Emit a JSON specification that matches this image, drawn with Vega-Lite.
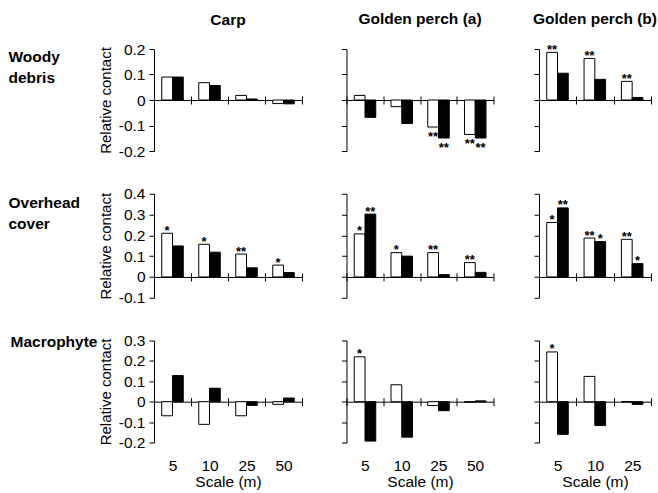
{
  "$schema": "https://vega.github.io/schema/vega-lite/v6.json",
  "padding": {"left": 8, "top": 12, "right": 0, "bottom": 0},
  "data": {"values": [
    {"habitat": "Woody debris", "species": "Carp", "scale": "5", "series": "open", "value": 0.090, "sig": ""},
    {"habitat": "Woody debris", "species": "Carp", "scale": "5", "series": "filled", "value": 0.090, "sig": ""},
    {"habitat": "Woody debris", "species": "Carp", "scale": "10", "series": "open", "value": 0.068, "sig": ""},
    {"habitat": "Woody debris", "species": "Carp", "scale": "10", "series": "filled", "value": 0.057, "sig": ""},
    {"habitat": "Woody debris", "species": "Carp", "scale": "25", "series": "open", "value": 0.018, "sig": ""},
    {"habitat": "Woody debris", "species": "Carp", "scale": "25", "series": "filled", "value": 0.004, "sig": ""},
    {"habitat": "Woody debris", "species": "Carp", "scale": "50", "series": "open", "value": -0.014, "sig": ""},
    {"habitat": "Woody debris", "species": "Carp", "scale": "50", "series": "filled", "value": -0.015, "sig": ""},
    {"habitat": "Woody debris", "species": "Golden perch (a)", "scale": "5", "series": "open", "value": 0.018, "sig": ""},
    {"habitat": "Woody debris", "species": "Golden perch (a)", "scale": "5", "series": "filled", "value": -0.068, "sig": ""},
    {"habitat": "Woody debris", "species": "Golden perch (a)", "scale": "10", "series": "open", "value": -0.026, "sig": ""},
    {"habitat": "Woody debris", "species": "Golden perch (a)", "scale": "10", "series": "filled", "value": -0.092, "sig": ""},
    {"habitat": "Woody debris", "species": "Golden perch (a)", "scale": "25", "series": "open", "value": -0.106, "sig": "**"},
    {"habitat": "Woody debris", "species": "Golden perch (a)", "scale": "25", "series": "filled", "value": -0.149, "sig": "**"},
    {"habitat": "Woody debris", "species": "Golden perch (a)", "scale": "50", "series": "open", "value": -0.135, "sig": "**"},
    {"habitat": "Woody debris", "species": "Golden perch (a)", "scale": "50", "series": "filled", "value": -0.149, "sig": "**"},
    {"habitat": "Woody debris", "species": "Golden perch (b)", "scale": "5", "series": "open", "value": 0.187, "sig": "**"},
    {"habitat": "Woody debris", "species": "Golden perch (b)", "scale": "5", "series": "filled", "value": 0.105, "sig": ""},
    {"habitat": "Woody debris", "species": "Golden perch (b)", "scale": "10", "series": "open", "value": 0.163, "sig": "**"},
    {"habitat": "Woody debris", "species": "Golden perch (b)", "scale": "10", "series": "filled", "value": 0.081, "sig": ""},
    {"habitat": "Woody debris", "species": "Golden perch (b)", "scale": "25", "series": "open", "value": 0.073, "sig": "**"},
    {"habitat": "Woody debris", "species": "Golden perch (b)", "scale": "25", "series": "filled", "value": 0.010, "sig": ""},
    {"habitat": "Overhead cover", "species": "Carp", "scale": "5", "series": "open", "value": 0.210, "sig": "*"},
    {"habitat": "Overhead cover", "species": "Carp", "scale": "5", "series": "filled", "value": 0.149, "sig": ""},
    {"habitat": "Overhead cover", "species": "Carp", "scale": "10", "series": "open", "value": 0.157, "sig": "*"},
    {"habitat": "Overhead cover", "species": "Carp", "scale": "10", "series": "filled", "value": 0.119, "sig": ""},
    {"habitat": "Overhead cover", "species": "Carp", "scale": "25", "series": "open", "value": 0.110, "sig": "**"},
    {"habitat": "Overhead cover", "species": "Carp", "scale": "25", "series": "filled", "value": 0.044, "sig": ""},
    {"habitat": "Overhead cover", "species": "Carp", "scale": "50", "series": "open", "value": 0.057, "sig": "*"},
    {"habitat": "Overhead cover", "species": "Carp", "scale": "50", "series": "filled", "value": 0.021, "sig": ""},
    {"habitat": "Overhead cover", "species": "Golden perch (a)", "scale": "5", "series": "open", "value": 0.207, "sig": "*"},
    {"habitat": "Overhead cover", "species": "Golden perch (a)", "scale": "5", "series": "filled", "value": 0.302, "sig": "**"},
    {"habitat": "Overhead cover", "species": "Golden perch (a)", "scale": "10", "series": "open", "value": 0.117, "sig": "*"},
    {"habitat": "Overhead cover", "species": "Golden perch (a)", "scale": "10", "series": "filled", "value": 0.100, "sig": ""},
    {"habitat": "Overhead cover", "species": "Golden perch (a)", "scale": "25", "series": "open", "value": 0.117, "sig": "**"},
    {"habitat": "Overhead cover", "species": "Golden perch (a)", "scale": "25", "series": "filled", "value": 0.011, "sig": ""},
    {"habitat": "Overhead cover", "species": "Golden perch (a)", "scale": "50", "series": "open", "value": 0.069, "sig": "**"},
    {"habitat": "Overhead cover", "species": "Golden perch (a)", "scale": "50", "series": "filled", "value": 0.022, "sig": ""},
    {"habitat": "Overhead cover", "species": "Golden perch (b)", "scale": "5", "series": "open", "value": 0.262, "sig": "*"},
    {"habitat": "Overhead cover", "species": "Golden perch (b)", "scale": "5", "series": "filled", "value": 0.332, "sig": "**"},
    {"habitat": "Overhead cover", "species": "Golden perch (b)", "scale": "10", "series": "open", "value": 0.187, "sig": "**"},
    {"habitat": "Overhead cover", "species": "Golden perch (b)", "scale": "10", "series": "filled", "value": 0.170, "sig": "*"},
    {"habitat": "Overhead cover", "species": "Golden perch (b)", "scale": "25", "series": "open", "value": 0.181, "sig": "**"},
    {"habitat": "Overhead cover", "species": "Golden perch (b)", "scale": "25", "series": "filled", "value": 0.064, "sig": "*"},
    {"habitat": "Macrophyte", "species": "Carp", "scale": "5", "series": "open", "value": -0.069, "sig": ""},
    {"habitat": "Macrophyte", "species": "Carp", "scale": "5", "series": "filled", "value": 0.128, "sig": ""},
    {"habitat": "Macrophyte", "species": "Carp", "scale": "10", "series": "open", "value": -0.111, "sig": ""},
    {"habitat": "Macrophyte", "species": "Carp", "scale": "10", "series": "filled", "value": 0.066, "sig": ""},
    {"habitat": "Macrophyte", "species": "Carp", "scale": "25", "series": "open", "value": -0.069, "sig": ""},
    {"habitat": "Macrophyte", "species": "Carp", "scale": "25", "series": "filled", "value": -0.018, "sig": ""},
    {"habitat": "Macrophyte", "species": "Carp", "scale": "50", "series": "open", "value": -0.013, "sig": ""},
    {"habitat": "Macrophyte", "species": "Carp", "scale": "50", "series": "filled", "value": 0.018, "sig": ""},
    {"habitat": "Macrophyte", "species": "Golden perch (a)", "scale": "5", "series": "open", "value": 0.220, "sig": "*"},
    {"habitat": "Macrophyte", "species": "Golden perch (a)", "scale": "5", "series": "filled", "value": -0.193, "sig": ""},
    {"habitat": "Macrophyte", "species": "Golden perch (a)", "scale": "10", "series": "open", "value": 0.083, "sig": ""},
    {"habitat": "Macrophyte", "species": "Golden perch (a)", "scale": "10", "series": "filled", "value": -0.174, "sig": ""},
    {"habitat": "Macrophyte", "species": "Golden perch (a)", "scale": "25", "series": "open", "value": -0.019, "sig": ""},
    {"habitat": "Macrophyte", "species": "Golden perch (a)", "scale": "25", "series": "filled", "value": -0.044, "sig": ""},
    {"habitat": "Macrophyte", "species": "Golden perch (a)", "scale": "50", "series": "open", "value": -0.002, "sig": ""},
    {"habitat": "Macrophyte", "species": "Golden perch (a)", "scale": "50", "series": "filled", "value": 0.004, "sig": ""},
    {"habitat": "Macrophyte", "species": "Golden perch (b)", "scale": "5", "series": "open", "value": 0.244, "sig": "*"},
    {"habitat": "Macrophyte", "species": "Golden perch (b)", "scale": "5", "series": "filled", "value": -0.160, "sig": ""},
    {"habitat": "Macrophyte", "species": "Golden perch (b)", "scale": "10", "series": "open", "value": 0.124, "sig": ""},
    {"habitat": "Macrophyte", "species": "Golden perch (b)", "scale": "10", "series": "filled", "value": -0.117, "sig": ""},
    {"habitat": "Macrophyte", "species": "Golden perch (b)", "scale": "25", "series": "open", "value": 0.0, "sig": ""},
    {"habitat": "Macrophyte", "species": "Golden perch (b)", "scale": "25", "series": "filled", "value": -0.013, "sig": ""}
  ]},
  "columns": 3,
  "spacing": {"row": 42.75, "column": 44.5},
  "align": {"row": "each", "column": "all"},
  "bounds": "flush",
  "concat": [
    {
      "width": 148, "height": 102,
      "title": {"text": "Carp", "fontSize": 15.5, "fontWeight": "bold", "anchor": "middle", "frame": "group", "offset": 14, "color": "black"},
      "transform": [{"filter": "datum.habitat === 'Woody debris' && datum.species === 'Carp'"}],
      "encoding": {
        "x": {"field": "scale", "type": "ordinal", "sort": ["5", "10", "25", "50"], "scale": {"paddingInner": 0, "paddingOuter": 0}, "axis": {"orient": "bottom", "offset": -51, "labels": false, "title": null, "tickSize": 4, "tickBand": "extent"}},
        "xOffset": {"field": "series", "type": "nominal", "sort": ["open", "filled"], "scale": {"paddingInner": 0, "paddingOuter": 0.72}},
        "y": {"field": "value", "type": "quantitative", "scale": {"domain": [-0.2, 0.2], "nice": false, "zero": false}, "axis": {"values": [-0.2, -0.1, 0, 0.1, 0.2], "labelExpr": "replace(format(datum.value, '.1~f'), '\u2212', '-')", "title": "Relative contact", "titlePadding": 5, "tickSize": 5, "labelPadding": 4, "titleFontSize": 15}}
      },
      "layer": [
        {"mark": {"type": "bar", "stroke": "black", "strokeWidth": 1}, "encoding": {"fill": {"field": "series", "type": "nominal", "scale": {"domain": ["open", "filled"], "range": ["white", "black"]}, "legend": null}}},
        {"transform": [{"filter": "datum.sig !== '' && datum.value >= 0"}], "mark": {"type": "text", "baseline": "alphabetic", "dy": 1.5, "fontSize": 13, "fontWeight": "bold", "color": "black"}, "encoding": {"text": {"field": "sig", "type": "nominal"}, "x": {"field": "scale", "type": "ordinal", "sort": ["5", "10", "25", "50"], "axis": {"orient": "top", "offset": -51, "labels": false, "title": null, "domain": false, "tickSize": 4, "tickBand": "extent"}}, "y": {"field": "value", "type": "quantitative", "axis": null}}},
        {"transform": [{"filter": "datum.sig !== '' && datum.value < 0"}], "mark": {"type": "text", "baseline": "alphabetic", "dy": 14, "fontSize": 13, "fontWeight": "bold", "color": "black"}, "encoding": {"text": {"field": "sig", "type": "nominal"}, "x": {"field": "scale", "type": "ordinal", "sort": ["5", "10", "25", "50"], "axis": null}, "y": {"field": "value", "type": "quantitative", "axis": {"orient": "left", "domain": false, "ticks": false, "labels": false, "title": ["Woody", "debris"], "titleAngle": 0, "titleAlign": "left", "titleBaseline": "top", "titleX": -146, "titleY": 0, "titleFontSize": 15.5, "titleFontWeight": "bold", "titleLineHeight": 21}}}}
      ],
      "resolve": {"axis": {"x": "independent", "y": "independent"}}
    },
    {
      "width": 147, "height": 102,
      "title": {"text": "Golden perch (a)", "fontSize": 15.5, "fontWeight": "bold", "anchor": "middle", "frame": "group", "offset": 21, "color": "black"},
      "transform": [{"filter": "datum.habitat === 'Woody debris' && datum.species === 'Golden perch (a)'"}],
      "encoding": {
        "x": {"field": "scale", "type": "ordinal", "sort": ["5", "10", "25", "50"], "scale": {"paddingInner": 0, "paddingOuter": 0}, "axis": {"orient": "bottom", "offset": -51, "labels": false, "title": null, "tickSize": 4, "tickBand": "extent"}},
        "xOffset": {"field": "series", "type": "nominal", "sort": ["open", "filled"], "scale": {"paddingInner": 0, "paddingOuter": 0.72}},
        "y": {"field": "value", "type": "quantitative", "scale": {"domain": [-0.2, 0.2], "nice": false, "zero": false}, "axis": {"values": [-0.2, -0.1, 0, 0.1, 0.2], "labels": false, "title": null, "tickSize": 5}}
      },
      "layer": [
        {"mark": {"type": "bar", "stroke": "black", "strokeWidth": 1}, "encoding": {"fill": {"field": "series", "type": "nominal", "scale": {"domain": ["open", "filled"], "range": ["white", "black"]}, "legend": null}}},
        {"transform": [{"filter": "datum.sig !== '' && datum.value >= 0"}], "mark": {"type": "text", "baseline": "alphabetic", "dy": 1.5, "fontSize": 13, "fontWeight": "bold", "color": "black"}, "encoding": {"text": {"field": "sig", "type": "nominal"}, "x": {"field": "scale", "type": "ordinal", "sort": ["5", "10", "25", "50"], "axis": {"orient": "top", "offset": -51, "labels": false, "title": null, "domain": false, "tickSize": 4, "tickBand": "extent"}}}},
        {"transform": [{"filter": "datum.sig !== '' && datum.value < 0"}], "mark": {"type": "text", "baseline": "alphabetic", "dy": 14, "fontSize": 13, "fontWeight": "bold", "color": "black"}, "encoding": {"text": {"field": "sig", "type": "nominal"}, "x": {"field": "scale", "type": "ordinal", "sort": ["5", "10", "25", "50"], "axis": null}}}
      ],
      "resolve": {"axis": {"x": "independent"}}
    },
    {
      "width": 112, "height": 102,
      "title": {"text": "Golden perch (b)", "fontSize": 15.5, "fontWeight": "bold", "anchor": "middle", "frame": "group", "offset": 16, "color": "black"},
      "transform": [{"filter": "datum.habitat === 'Woody debris' && datum.species === 'Golden perch (b)'"}],
      "encoding": {
        "x": {"field": "scale", "type": "ordinal", "sort": ["5", "10", "25"], "scale": {"paddingInner": 0, "paddingOuter": 0}, "axis": {"orient": "bottom", "offset": -51, "labels": false, "title": null, "tickSize": 4, "tickBand": "extent"}},
        "xOffset": {"field": "series", "type": "nominal", "sort": ["open", "filled"], "scale": {"paddingInner": 0, "paddingOuter": 0.72}},
        "y": {"field": "value", "type": "quantitative", "scale": {"domain": [-0.2, 0.2], "nice": false, "zero": false}, "axis": {"values": [-0.2, -0.1, 0, 0.1, 0.2], "labels": false, "title": null, "tickSize": 5}}
      },
      "layer": [
        {"mark": {"type": "bar", "stroke": "black", "strokeWidth": 1}, "encoding": {"fill": {"field": "series", "type": "nominal", "scale": {"domain": ["open", "filled"], "range": ["white", "black"]}, "legend": null}}},
        {"transform": [{"filter": "datum.sig !== '' && datum.value >= 0"}], "mark": {"type": "text", "baseline": "alphabetic", "dy": 1.5, "fontSize": 13, "fontWeight": "bold", "color": "black"}, "encoding": {"text": {"field": "sig", "type": "nominal"}, "x": {"field": "scale", "type": "ordinal", "sort": ["5", "10", "25"], "axis": {"orient": "top", "offset": -51, "labels": false, "title": null, "domain": false, "tickSize": 4, "tickBand": "extent"}}}},
        {"transform": [{"filter": "datum.sig !== '' && datum.value < 0"}], "mark": {"type": "text", "baseline": "alphabetic", "dy": 14, "fontSize": 13, "fontWeight": "bold", "color": "black"}, "encoding": {"text": {"field": "sig", "type": "nominal"}, "x": {"field": "scale", "type": "ordinal", "sort": ["5", "10", "25"], "axis": null}}}
      ],
      "resolve": {"axis": {"x": "independent"}}
    },
    {
      "width": 148, "height": 104,
      "transform": [{"filter": "datum.habitat === 'Overhead cover' && datum.species === 'Carp'"}],
      "encoding": {
        "x": {"field": "scale", "type": "ordinal", "sort": ["5", "10", "25", "50"], "scale": {"paddingInner": 0, "paddingOuter": 0}, "axis": {"orient": "bottom", "offset": -20.8, "labels": false, "title": null, "tickSize": 4, "tickBand": "extent"}},
        "xOffset": {"field": "series", "type": "nominal", "sort": ["open", "filled"], "scale": {"paddingInner": 0, "paddingOuter": 0.72}},
        "y": {"field": "value", "type": "quantitative", "scale": {"domain": [-0.1, 0.4], "nice": false, "zero": false}, "axis": {"values": [-0.1, 0, 0.1, 0.2, 0.3, 0.4], "labelExpr": "replace(format(datum.value, '.1~f'), '\u2212', '-')", "title": "Relative contact", "titlePadding": 5, "tickSize": 5, "labelPadding": 4, "titleFontSize": 15}}
      },
      "layer": [
        {"mark": {"type": "bar", "stroke": "black", "strokeWidth": 1}, "encoding": {"fill": {"field": "series", "type": "nominal", "scale": {"domain": ["open", "filled"], "range": ["white", "black"]}, "legend": null}}},
        {"transform": [{"filter": "datum.sig !== '' && datum.value >= 0"}], "mark": {"type": "text", "baseline": "alphabetic", "dy": 1.5, "fontSize": 13, "fontWeight": "bold", "color": "black"}, "encoding": {"text": {"field": "sig", "type": "nominal"}, "x": {"field": "scale", "type": "ordinal", "sort": ["5", "10", "25", "50"], "axis": {"orient": "top", "offset": -83.2, "labels": false, "title": null, "domain": false, "tickSize": 4, "tickBand": "extent"}}, "y": {"field": "value", "type": "quantitative", "axis": null}}},
        {"transform": [{"filter": "datum.sig !== '' && datum.value < 0"}], "mark": {"type": "text", "baseline": "alphabetic", "dy": 14, "fontSize": 13, "fontWeight": "bold", "color": "black"}, "encoding": {"text": {"field": "sig", "type": "nominal"}, "x": {"field": "scale", "type": "ordinal", "sort": ["5", "10", "25", "50"], "axis": null}, "y": {"field": "value", "type": "quantitative", "axis": {"orient": "left", "domain": false, "ticks": false, "labels": false, "title": ["Overhead", "cover"], "titleAngle": 0, "titleAlign": "left", "titleBaseline": "top", "titleX": -146, "titleY": 2, "titleFontSize": 15.5, "titleFontWeight": "bold", "titleLineHeight": 21}}}}
      ],
      "resolve": {"axis": {"x": "independent", "y": "independent"}}
    },
    {
      "width": 147, "height": 104,
      "transform": [{"filter": "datum.habitat === 'Overhead cover' && datum.species === 'Golden perch (a)'"}],
      "encoding": {
        "x": {"field": "scale", "type": "ordinal", "sort": ["5", "10", "25", "50"], "scale": {"paddingInner": 0, "paddingOuter": 0}, "axis": {"orient": "bottom", "offset": -20.8, "labels": false, "title": null, "tickSize": 4, "tickBand": "extent"}},
        "xOffset": {"field": "series", "type": "nominal", "sort": ["open", "filled"], "scale": {"paddingInner": 0, "paddingOuter": 0.72}},
        "y": {"field": "value", "type": "quantitative", "scale": {"domain": [-0.1, 0.4], "nice": false, "zero": false}, "axis": {"values": [-0.1, 0, 0.1, 0.2, 0.3, 0.4], "labels": false, "title": null, "tickSize": 5}}
      },
      "layer": [
        {"mark": {"type": "bar", "stroke": "black", "strokeWidth": 1}, "encoding": {"fill": {"field": "series", "type": "nominal", "scale": {"domain": ["open", "filled"], "range": ["white", "black"]}, "legend": null}}},
        {"transform": [{"filter": "datum.sig !== '' && datum.value >= 0"}], "mark": {"type": "text", "baseline": "alphabetic", "dy": 1.5, "fontSize": 13, "fontWeight": "bold", "color": "black"}, "encoding": {"text": {"field": "sig", "type": "nominal"}, "x": {"field": "scale", "type": "ordinal", "sort": ["5", "10", "25", "50"], "axis": {"orient": "top", "offset": -83.2, "labels": false, "title": null, "domain": false, "tickSize": 4, "tickBand": "extent"}}}},
        {"transform": [{"filter": "datum.sig !== '' && datum.value < 0"}], "mark": {"type": "text", "baseline": "alphabetic", "dy": 14, "fontSize": 13, "fontWeight": "bold", "color": "black"}, "encoding": {"text": {"field": "sig", "type": "nominal"}, "x": {"field": "scale", "type": "ordinal", "sort": ["5", "10", "25", "50"], "axis": null}}}
      ],
      "resolve": {"axis": {"x": "independent"}}
    },
    {
      "width": 112, "height": 104,
      "transform": [{"filter": "datum.habitat === 'Overhead cover' && datum.species === 'Golden perch (b)'"}],
      "encoding": {
        "x": {"field": "scale", "type": "ordinal", "sort": ["5", "10", "25"], "scale": {"paddingInner": 0, "paddingOuter": 0}, "axis": {"orient": "bottom", "offset": -20.8, "labels": false, "title": null, "tickSize": 4, "tickBand": "extent"}},
        "xOffset": {"field": "series", "type": "nominal", "sort": ["open", "filled"], "scale": {"paddingInner": 0, "paddingOuter": 0.72}},
        "y": {"field": "value", "type": "quantitative", "scale": {"domain": [-0.1, 0.4], "nice": false, "zero": false}, "axis": {"values": [-0.1, 0, 0.1, 0.2, 0.3, 0.4], "labels": false, "title": null, "tickSize": 5}}
      },
      "layer": [
        {"mark": {"type": "bar", "stroke": "black", "strokeWidth": 1}, "encoding": {"fill": {"field": "series", "type": "nominal", "scale": {"domain": ["open", "filled"], "range": ["white", "black"]}, "legend": null}}},
        {"transform": [{"filter": "datum.sig !== '' && datum.value >= 0"}], "mark": {"type": "text", "baseline": "alphabetic", "dy": 1.5, "fontSize": 13, "fontWeight": "bold", "color": "black"}, "encoding": {"text": {"field": "sig", "type": "nominal"}, "x": {"field": "scale", "type": "ordinal", "sort": ["5", "10", "25"], "axis": {"orient": "top", "offset": -83.2, "labels": false, "title": null, "domain": false, "tickSize": 4, "tickBand": "extent"}}}},
        {"transform": [{"filter": "datum.sig !== '' && datum.value < 0"}], "mark": {"type": "text", "baseline": "alphabetic", "dy": 14, "fontSize": 13, "fontWeight": "bold", "color": "black"}, "encoding": {"text": {"field": "sig", "type": "nominal"}, "x": {"field": "scale", "type": "ordinal", "sort": ["5", "10", "25"], "axis": null}}}
      ],
      "resolve": {"axis": {"x": "independent"}}
    },
    {
      "width": 148, "height": 102,
      "transform": [{"filter": "datum.habitat === 'Macrophyte' && datum.species === 'Carp'"}],
      "encoding": {
        "x": {"field": "scale", "type": "ordinal", "sort": ["5", "10", "25", "50"], "scale": {"paddingInner": 0, "paddingOuter": 0}, "axis": {"orient": "bottom", "offset": -40.8, "labels": true, "labelAngle": 0, "labelPadding": 53, "title": "Scale (m)", "titleFontSize": 15.5, "titlePadding": 0, "tickSize": 4, "tickBand": "extent"}},
        "xOffset": {"field": "series", "type": "nominal", "sort": ["open", "filled"], "scale": {"paddingInner": 0, "paddingOuter": 0.72}},
        "y": {"field": "value", "type": "quantitative", "scale": {"domain": [-0.2, 0.3], "nice": false, "zero": false}, "axis": {"values": [-0.2, -0.1, 0, 0.1, 0.2, 0.3], "labelExpr": "replace(format(datum.value, '.1~f'), '\u2212', '-')", "title": "Relative contact", "titlePadding": 5, "tickSize": 5, "labelPadding": 4, "titleFontSize": 15}}
      },
      "layer": [
        {"mark": {"type": "bar", "stroke": "black", "strokeWidth": 1}, "encoding": {"fill": {"field": "series", "type": "nominal", "scale": {"domain": ["open", "filled"], "range": ["white", "black"]}, "legend": null}}},
        {"transform": [{"filter": "datum.sig !== '' && datum.value >= 0"}], "mark": {"type": "text", "baseline": "alphabetic", "dy": 1.5, "fontSize": 13, "fontWeight": "bold", "color": "black"}, "encoding": {"text": {"field": "sig", "type": "nominal"}, "x": {"field": "scale", "type": "ordinal", "sort": ["5", "10", "25", "50"], "axis": {"orient": "top", "offset": -61.2, "labels": false, "title": null, "domain": false, "tickSize": 4, "tickBand": "extent"}}, "y": {"field": "value", "type": "quantitative", "axis": null}}},
        {"transform": [{"filter": "datum.sig !== '' && datum.value < 0"}], "mark": {"type": "text", "baseline": "alphabetic", "dy": 14, "fontSize": 13, "fontWeight": "bold", "color": "black"}, "encoding": {"text": {"field": "sig", "type": "nominal"}, "x": {"field": "scale", "type": "ordinal", "sort": ["5", "10", "25", "50"], "axis": null}, "y": {"field": "value", "type": "quantitative", "axis": {"orient": "left", "domain": false, "ticks": false, "labels": false, "title": "Macrophyte", "titleAngle": 0, "titleAlign": "left", "titleBaseline": "top", "titleX": -144, "titleY": -6, "titleFontSize": 15.5, "titleFontWeight": "bold", "titleLineHeight": 21}}}}
      ],
      "resolve": {"axis": {"x": "independent", "y": "independent"}}
    },
    {
      "width": 147, "height": 102,
      "transform": [{"filter": "datum.habitat === 'Macrophyte' && datum.species === 'Golden perch (a)'"}],
      "encoding": {
        "x": {"field": "scale", "type": "ordinal", "sort": ["5", "10", "25", "50"], "scale": {"paddingInner": 0, "paddingOuter": 0}, "axis": {"orient": "bottom", "offset": -40.8, "labels": true, "labelAngle": 0, "labelPadding": 53, "title": "Scale (m)", "titleFontSize": 15.5, "titlePadding": 0, "tickSize": 4, "tickBand": "extent"}},
        "xOffset": {"field": "series", "type": "nominal", "sort": ["open", "filled"], "scale": {"paddingInner": 0, "paddingOuter": 0.72}},
        "y": {"field": "value", "type": "quantitative", "scale": {"domain": [-0.2, 0.3], "nice": false, "zero": false}, "axis": {"values": [-0.2, -0.1, 0, 0.1, 0.2, 0.3], "labels": false, "title": null, "tickSize": 5}}
      },
      "layer": [
        {"mark": {"type": "bar", "stroke": "black", "strokeWidth": 1}, "encoding": {"fill": {"field": "series", "type": "nominal", "scale": {"domain": ["open", "filled"], "range": ["white", "black"]}, "legend": null}}},
        {"transform": [{"filter": "datum.sig !== '' && datum.value >= 0"}], "mark": {"type": "text", "baseline": "alphabetic", "dy": 1.5, "fontSize": 13, "fontWeight": "bold", "color": "black"}, "encoding": {"text": {"field": "sig", "type": "nominal"}, "x": {"field": "scale", "type": "ordinal", "sort": ["5", "10", "25", "50"], "axis": {"orient": "top", "offset": -61.2, "labels": false, "title": null, "domain": false, "tickSize": 4, "tickBand": "extent"}}}},
        {"transform": [{"filter": "datum.sig !== '' && datum.value < 0"}], "mark": {"type": "text", "baseline": "alphabetic", "dy": 14, "fontSize": 13, "fontWeight": "bold", "color": "black"}, "encoding": {"text": {"field": "sig", "type": "nominal"}, "x": {"field": "scale", "type": "ordinal", "sort": ["5", "10", "25", "50"], "axis": null}}}
      ],
      "resolve": {"axis": {"x": "independent"}}
    },
    {
      "width": 112, "height": 102,
      "transform": [{"filter": "datum.habitat === 'Macrophyte' && datum.species === 'Golden perch (b)'"}],
      "encoding": {
        "x": {"field": "scale", "type": "ordinal", "sort": ["5", "10", "25"], "scale": {"paddingInner": 0, "paddingOuter": 0}, "axis": {"orient": "bottom", "offset": -40.8, "labels": true, "labelAngle": 0, "labelPadding": 53, "title": "Scale (m)", "titleFontSize": 15.5, "titlePadding": 0, "tickSize": 4, "tickBand": "extent"}},
        "xOffset": {"field": "series", "type": "nominal", "sort": ["open", "filled"], "scale": {"paddingInner": 0, "paddingOuter": 0.72}},
        "y": {"field": "value", "type": "quantitative", "scale": {"domain": [-0.2, 0.3], "nice": false, "zero": false}, "axis": {"values": [-0.2, -0.1, 0, 0.1, 0.2, 0.3], "labels": false, "title": null, "tickSize": 5}}
      },
      "layer": [
        {"mark": {"type": "bar", "stroke": "black", "strokeWidth": 1}, "encoding": {"fill": {"field": "series", "type": "nominal", "scale": {"domain": ["open", "filled"], "range": ["white", "black"]}, "legend": null}}},
        {"transform": [{"filter": "datum.sig !== '' && datum.value >= 0"}], "mark": {"type": "text", "baseline": "alphabetic", "dy": 1.5, "fontSize": 13, "fontWeight": "bold", "color": "black"}, "encoding": {"text": {"field": "sig", "type": "nominal"}, "x": {"field": "scale", "type": "ordinal", "sort": ["5", "10", "25"], "axis": {"orient": "top", "offset": -61.2, "labels": false, "title": null, "domain": false, "tickSize": 4, "tickBand": "extent"}}}},
        {"transform": [{"filter": "datum.sig !== '' && datum.value < 0"}], "mark": {"type": "text", "baseline": "alphabetic", "dy": 14, "fontSize": 13, "fontWeight": "bold", "color": "black"}, "encoding": {"text": {"field": "sig", "type": "nominal"}, "x": {"field": "scale", "type": "ordinal", "sort": ["5", "10", "25"], "axis": null}}}
      ],
      "resolve": {"axis": {"x": "independent"}}
    }
  ],
  "config": {
    "view": {"stroke": null},
    "font": "Liberation Sans",
    "axis": {"domainColor": "black", "tickColor": "black", "labelColor": "black", "titleColor": "black", "grid": false, "labelFont": "Liberation Sans", "titleFont": "Liberation Sans", "titleFontWeight": "normal", "labelFontSize": 15.5},
    "title": {"font": "Liberation Sans", "color": "black"},
    "text": {"font": "Liberation Sans"}
  }
}
